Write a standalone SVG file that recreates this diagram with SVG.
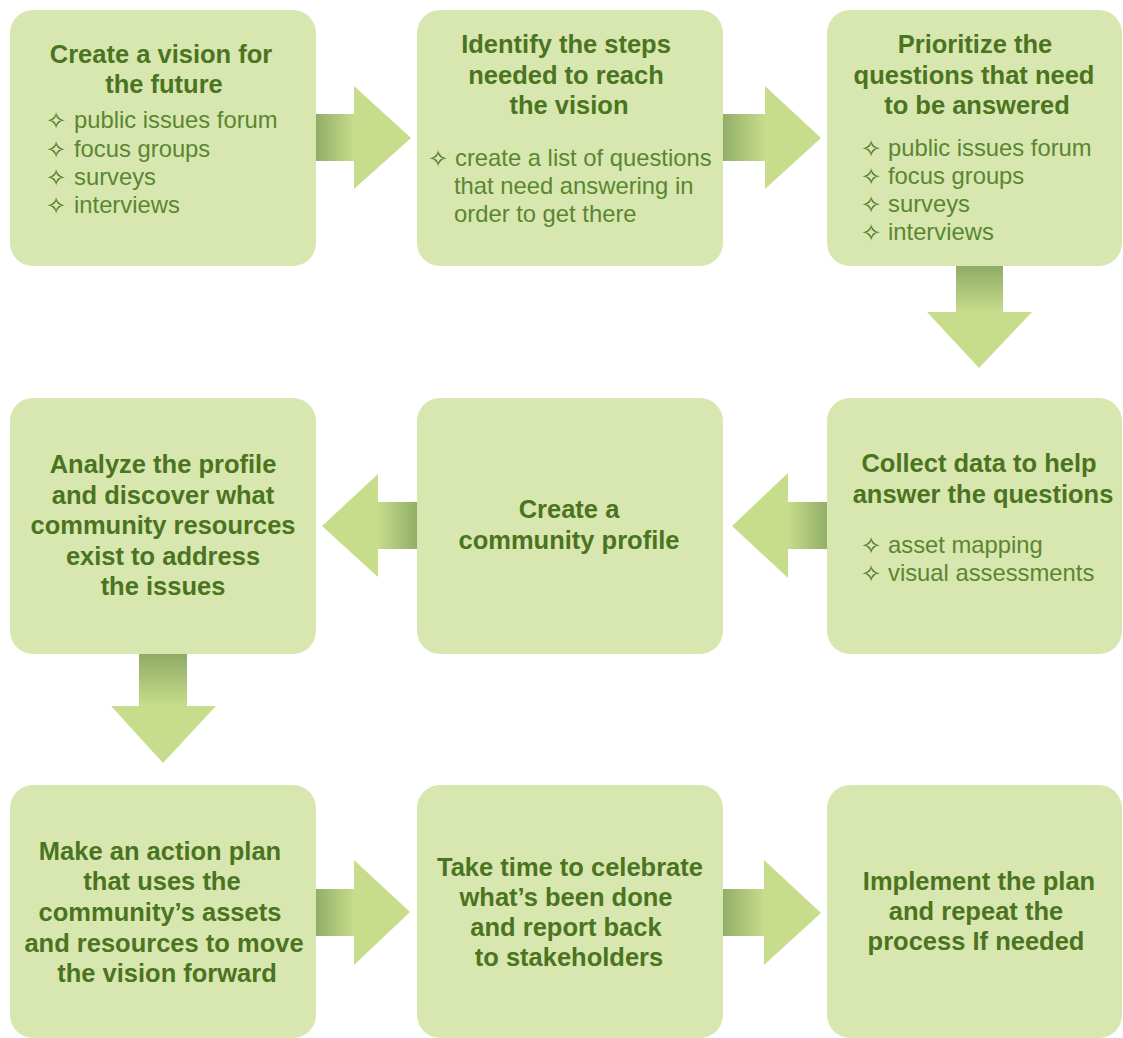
<svg xmlns="http://www.w3.org/2000/svg" width="1123" height="1038" viewBox="0 0 1123 1038">
<defs>
<style>
.box{fill:#d8e7b0;}
.head{fill:#c8dd8c;}
.t{font-family:"Liberation Sans",Arial,Helvetica,sans-serif;font-weight:bold;font-size:25.5px;fill:#4b7420;text-anchor:middle;}
.b{font-family:"Liberation Sans",Arial,Helvetica,sans-serif;font-size:23.8px;fill:#5a8630;}
.s{font-family:"DejaVu Sans",sans-serif;font-size:24px;fill:#4b7420;}
</style>
<linearGradient id="gR" x1="0" y1="0" x2="1" y2="0">
<stop offset="0" stop-color="#91ae68"/>
<stop offset="1" stop-color="#c8dd8c"/>
</linearGradient>
<linearGradient id="gL" x1="1" y1="0" x2="0" y2="0">
<stop offset="0" stop-color="#91ae68"/>
<stop offset="1" stop-color="#c8dd8c"/>
</linearGradient>
<linearGradient id="gD" x1="0" y1="0" x2="0" y2="1">
<stop offset="0" stop-color="#8fab66"/>
<stop offset="1" stop-color="#c8dd8c"/>
</linearGradient>
</defs>
<rect width="1123" height="1038" fill="#ffffff"/>

<g id="connectors">
<g id="arrow-1-2"><rect x="316" y="114" width="39" height="47" fill="url(#gR)"/><polygon class="head" points="354,86 411,138 354,189"/></g>
<g id="arrow-2-3"><rect x="723" y="114" width="43" height="47" fill="url(#gR)"/><polygon class="head" points="765,86 821,138 765,189"/></g>
<g id="arrow-3-4"><rect x="956" y="266" width="47" height="47" fill="url(#gD)"/><polygon class="head" points="927,312 1032,312 979,368"/></g>
<g id="arrow-4-5"><rect x="787" y="502" width="40" height="47" fill="url(#gL)"/><polygon class="head" points="788,473 732,526 788,578"/></g>
<g id="arrow-5-6"><rect x="377" y="502" width="40" height="47" fill="url(#gL)"/><polygon class="head" points="378,474 322,526 378,577"/></g>
<g id="arrow-6-7"><rect x="139" y="654" width="48" height="53" fill="url(#gD)"/><polygon class="head" points="111,706 216,706 163,763"/></g>
<g id="arrow-7-8"><rect x="316" y="889" width="39" height="47" fill="url(#gR)"/><polygon class="head" points="354,860 410,912 354,965"/></g>
<g id="arrow-8-9"><rect x="723" y="889" width="42" height="47" fill="url(#gR)"/><polygon class="head" points="764,860 821,913 764,965"/></g>
</g>

<g id="node1">
<rect class="box" x="10" y="10" width="306" height="256" rx="23"/>
<text class="t" x="161" y="63">Create a vision for</text>
<text class="t" x="164" y="93">the future</text>
<text class="s" x="46" y="129">✧</text><text class="b" x="74" y="128">public issues forum</text>
<text class="s" x="46" y="158">✧</text><text class="b" x="74" y="157">focus groups</text>
<text class="s" x="46" y="186">✧</text><text class="b" x="74" y="185">surveys</text>
<text class="s" x="46" y="214">✧</text><text class="b" x="74" y="213">interviews</text>
</g>

<g id="node2">
<rect class="box" x="417" y="10" width="306" height="256" rx="23"/>
<text class="t" x="566" y="53">Identify the steps</text>
<text class="t" x="566" y="84">needed to reach</text>
<text class="t" x="569" y="114">the vision</text>
<text class="s" x="428" y="167">✧</text><text class="b" x="455" y="166">create a list of questions</text>
<text class="b" x="454" y="194">that need answering in</text>
<text class="b" x="454" y="222">order to get there</text>
</g>

<g id="node3">
<rect class="box" x="827" y="10" width="295" height="256" rx="23"/>
<text class="t" x="975" y="53">Prioritize the</text>
<text class="t" x="974" y="84">questions that need</text>
<text class="t" x="977" y="114">to be answered</text>
<text class="s" x="861" y="157">✧</text><text class="b" x="888" y="156">public issues forum</text>
<text class="s" x="861" y="185">✧</text><text class="b" x="888" y="184">focus groups</text>
<text class="s" x="861" y="213">✧</text><text class="b" x="888" y="212">surveys</text>
<text class="s" x="861" y="241">✧</text><text class="b" x="888" y="240">interviews</text>
</g>

<g id="node4">
<rect class="box" x="827" y="398" width="295" height="256" rx="23"/>
<text class="t" x="979" y="472">Collect data to help</text>
<text class="t" x="983" y="503">answer the questions</text>
<text class="s" x="861" y="554">✧</text><text class="b" x="888" y="553">asset mapping</text>
<text class="s" x="861" y="582">✧</text><text class="b" x="888" y="581">visual assessments</text>
</g>

<g id="node5">
<rect class="box" x="417" y="398" width="306" height="256" rx="23"/>
<text class="t" x="569" y="518">Create a</text>
<text class="t" x="569" y="549">community profile</text>
</g>

<g id="node6">
<rect class="box" x="10" y="398" width="306" height="256" rx="23"/>
<text class="t" x="163" y="473">Analyze the profile</text>
<text class="t" x="163" y="504">and discover what</text>
<text class="t" x="163" y="534">community resources</text>
<text class="t" x="163" y="565">exist to address</text>
<text class="t" x="163" y="595">the issues</text>
</g>

<g id="node7">
<rect class="box" x="10" y="785" width="306" height="253" rx="23"/>
<text class="t" x="160" y="860">Make an action plan</text>
<text class="t" x="162" y="890">that uses the</text>
<text class="t" x="160" y="921">community’s assets</text>
<text class="t" x="164" y="952">and resources to move</text>
<text class="t" x="167" y="982">the vision forward</text>
</g>

<g id="node8">
<rect class="box" x="417" y="785" width="306" height="253" rx="23"/>
<text class="t" x="570" y="876">Take time to celebrate</text>
<text class="t" x="566" y="906">what’s been done</text>
<text class="t" x="566" y="936">and report back</text>
<text class="t" x="569" y="966">to stakeholders</text>
</g>

<g id="node9">
<rect class="box" x="827" y="785" width="295" height="253" rx="23"/>
<text class="t" x="979" y="890">Implement the plan</text>
<text class="t" x="976" y="920">and repeat the</text>
<text class="t" x="976" y="950">process If needed</text>
</g>
</svg>
